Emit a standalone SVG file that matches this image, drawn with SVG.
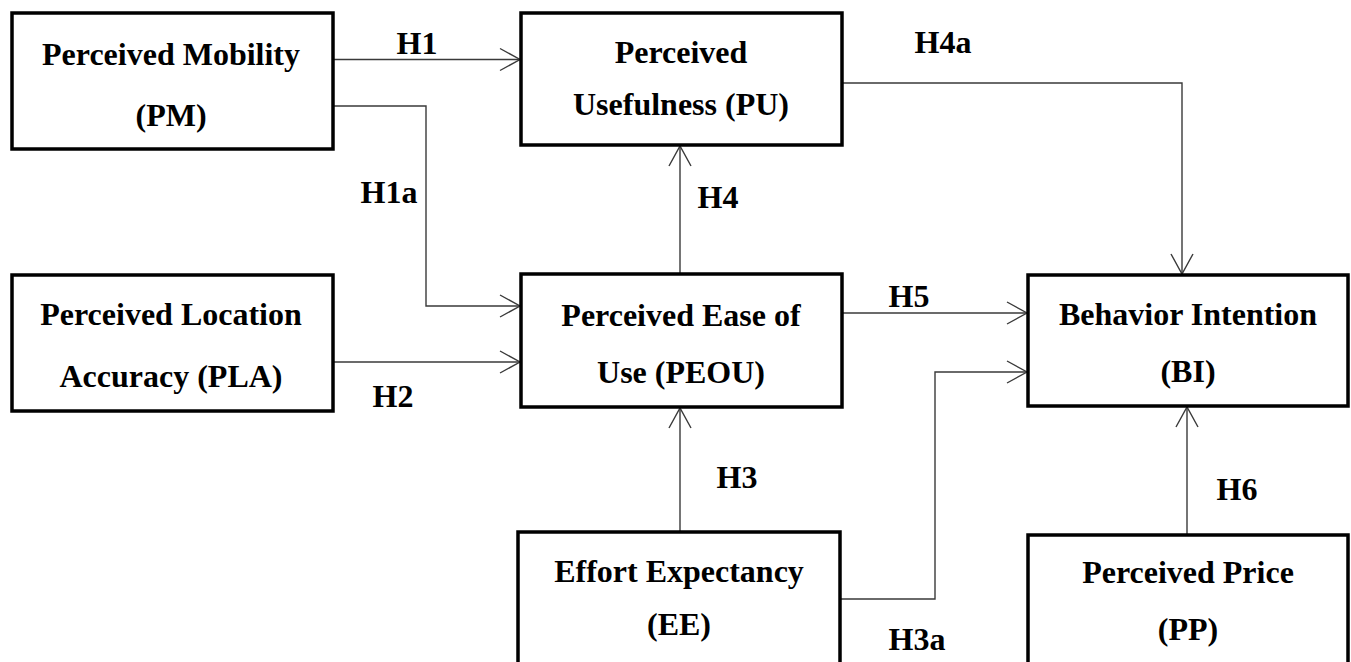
<svg xmlns="http://www.w3.org/2000/svg" width="1351" height="662" viewBox="0 0 1351 662">
<style>
.box{fill:#fff;stroke:#000;stroke-width:3.5}
.t{font-family:"Liberation Serif","Times New Roman",serif;font-weight:bold;font-size:32px;fill:#000;text-anchor:middle}
.c{fill:none;stroke:#3a3a3a;stroke-width:1.4;marker-end:url(#arr)}
</style>
<defs>
<marker id="arr" markerUnits="userSpaceOnUse" viewBox="-22 -13 24 26" refX="0" refY="0" markerWidth="24" markerHeight="26" orient="auto">
<path d="M-20,-11 L0,0 L-20,11" fill="none" stroke="#3a3a3a" stroke-width="1.4"/>
</marker>
</defs>
<rect width="1351" height="662" fill="#fff"/>
<g id="connectors">
<path class="c" d="M333 59.5 H520"/>
<path class="c" d="M333 106 H426 V306 H520"/>
<path class="c" d="M333 362 H520"/>
<path class="c" d="M680 274 V146"/>
<path class="c" d="M680 532 V408"/>
<path class="c" d="M842 313 H1027"/>
<path class="c" d="M840 599 H935 V372 H1027"/>
<path class="c" d="M842 83 H1182 V274"/>
<path class="c" d="M1187 535 V407"/>
</g>
<g id="labels">
<text class="t" x="417" y="54">H1</text>
<text class="t" x="389" y="203">H1a</text>
<text class="t" x="393" y="407">H2</text>
<text class="t" x="718" y="208">H4</text>
<text class="t" x="943" y="53">H4a</text>
<text class="t" x="909" y="307">H5</text>
<text class="t" x="737" y="488">H3</text>
<text class="t" x="917" y="650">H3a</text>
<text class="t" x="1237" y="500">H6</text>
</g>
<g id="PM">
<rect class="box" x="12" y="13" width="321" height="136"/>
<text class="t" x="171" y="65">Perceived Mobility</text>
<text class="t" x="171" y="126">(PM)</text>
</g>
<g id="PU">
<rect class="box" x="521" y="13" width="321" height="132"/>
<text class="t" x="681" y="63">Perceived</text>
<text class="t" x="681" y="115">Usefulness (PU)</text>
</g>
<g id="PLA">
<rect class="box" x="12" y="275" width="321" height="136"/>
<text class="t" x="171" y="325">Perceived Location</text>
<text class="t" x="171" y="387">Accuracy (PLA)</text>
</g>
<g id="PEOU">
<rect class="box" x="521" y="274" width="321" height="133"/>
<text class="t" x="681" y="326">Perceived Ease of</text>
<text class="t" x="681" y="383">Use (PEOU)</text>
</g>
<g id="BI">
<rect class="box" x="1028" y="275" width="320" height="131"/>
<text class="t" x="1188" y="325">Behavior Intention</text>
<text class="t" x="1188" y="382">(BI)</text>
</g>
<g id="EE">
<rect class="box" x="518" y="532" width="322" height="140"/>
<text class="t" x="679" y="582">Effort Expectancy</text>
<text class="t" x="679" y="635">(EE)</text>
</g>
<g id="PP">
<rect class="box" x="1028" y="535" width="320" height="140"/>
<text class="t" x="1188" y="583">Perceived Price</text>
<text class="t" x="1188" y="640">(PP)</text>
</g>
</svg>
